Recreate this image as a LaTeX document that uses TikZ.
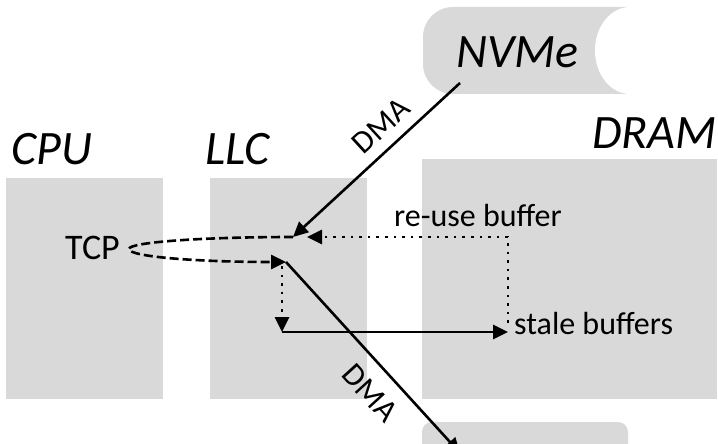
\documentclass[tikz,border=0pt]{standalone}
\usepackage{fontspec}
\setmainfont{Carlito}
\usetikzlibrary{arrows.meta}
\definecolor{panel}{HTML}{D9D9D9}
\begin{document}
\begin{tikzpicture}[x=1pt,y=-1pt,
  box/.style={fill=panel, draw=none, inner sep=0pt, outer sep=0pt, anchor=north west},
  title/.style={font=\fontsize{48}{48}\selectfont\itshape, inner sep=0pt, anchor=base west},
  lbl/.style={font=\fontsize{32}{32}\selectfont, inner sep=0pt},
  flow/.style={line width=2.6pt, -{Triangle[length=15pt,width=14pt]}},
  dashflow/.style={flow, dash pattern=on 9pt off 4pt},
  dotflow/.style={flow, dash pattern=on 2.6pt off 6pt},
]
\useasboundingbox (0,0) rectangle (718,444);

% memory / processing blocks
\node[box, minimum width=157pt, minimum height=221pt] (cpu) at (6,178) {};
\node[box, minimum width=157pt, minimum height=221pt] (llc) at (210,178) {};
\node[box, minimum width=295pt, minimum height=240pt] (dram) at (422,159) {};
\node[box, rounded corners=10pt, minimum width=206pt, minimum height=60pt] (nic) at (422,422) {};

% NVMe drive drawn as a lying cylinder
\begin{scope}
  \clip (0,0) rectangle (630,100);
  \fill[panel, rounded corners=30pt] (423,7) rectangle (690,94);
\end{scope}
\fill[white] (630,50.5) ellipse [x radius=35pt, y radius=43.5pt];

% titles
\node[title] (cputitle) at (11,164) {CPU};
\node[title] (llctitle) at (205,164) {LLC};
\node[title] (dramtitle) at (592,148) {DRAM};
\node[title] (nvme) at (456,67) {NVMe};

% labels
\node[lbl, font=\fontsize{36}{36}\selectfont, anchor=base west] (tcp) at (65,259) {TCP};
\node[lbl, anchor=base west] (reuse) at (394,226) {re-use buffer};
\node[lbl, anchor=base west] (stalelbl) at (514,334) {stale buffers};
\node[lbl, rotate=42.5] (dmain) at (381,126) {DMA};
\node[lbl, rotate=-47.7] (dmaout) at (370,393) {DMA};

% connector end points
\coordinate (nvmeport) at (460,83);
\coordinate (llcin) at (293,237);
\coordinate (llcout) at (286,262);
\coordinate (tcpturn) at (129,249);
\coordinate (reusetip) at (307,237);
\coordinate (reusecorner) at (508,237);
\coordinate (stale) at (508,323);
\coordinate (droptop) at (282,266);
\coordinate (dropcorner) at (282,332);
\coordinate (staletip) at (508,332);
\coordinate (nicport) at (460,453);

% data paths
\draw[flow] (nvmeport) -- (llcin);
\draw[dashflow] (llcin) .. controls (205,237) and (129,242) .. (tcpturn)
                        .. controls (129,257) and (200,262) .. (llcout);
\draw[dotflow] (stale) -- (reusecorner) -- (reusetip);
\draw[dotflow] (droptop) -- (dropcorner);
\draw[flow] (dropcorner) -- (staletip);
\draw[flow] (llcout) -- (nicport);
\end{tikzpicture}
\end{document}
